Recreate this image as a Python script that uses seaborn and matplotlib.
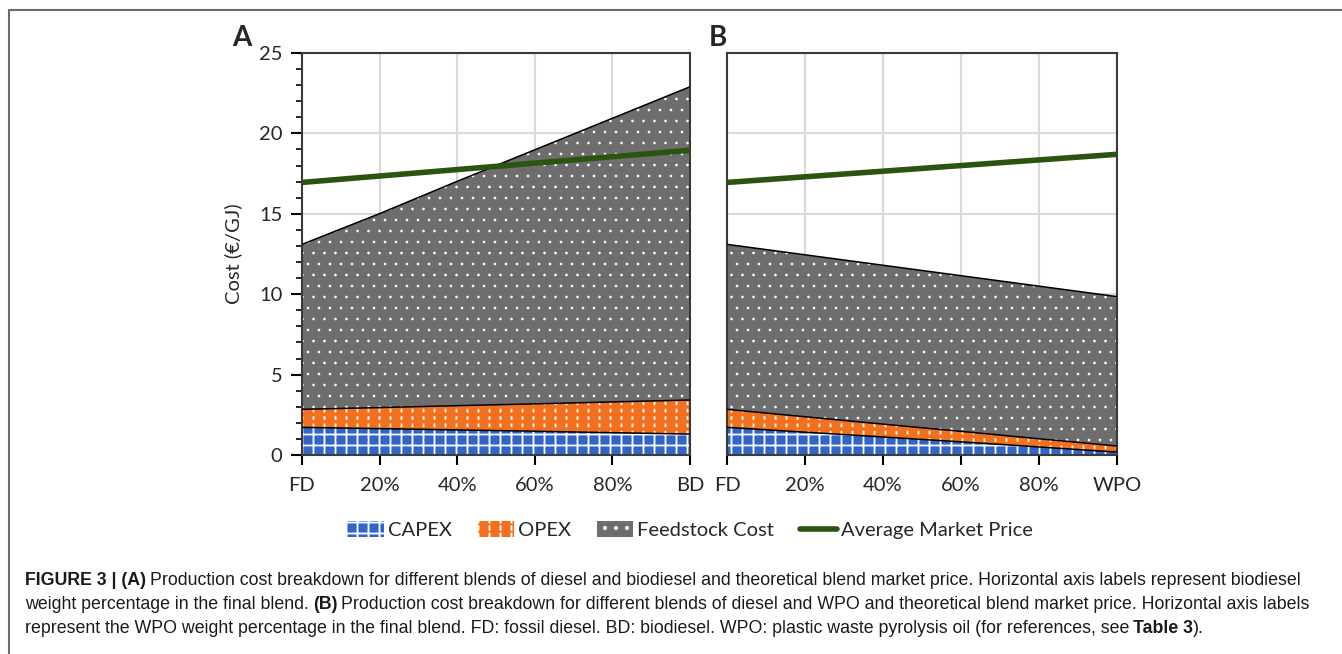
import matplotlib
matplotlib.use("Agg")
import matplotlib.pyplot as plt
import seaborn as sns
import pandas as pd
from matplotlib.patches import Patch
from matplotlib.lines import Line2D
from matplotlib.ticker import MultipleLocator

# ---- data ----
share = [0, 20, 40, 60, 80, 100]
labels_a = ["FD", "20%", "40%", "60%", "80%", "BD"]
labels_b = ["FD", "20%", "40%", "60%", "80%", "WPO"]

capex_a = [1.72, 1.64, 1.56, 1.48, 1.39, 1.30]
opex_a = [1.12, 1.31, 1.51, 1.70, 1.91, 2.12]
feed_a = [10.26, 12.06, 13.95, 15.80, 17.64, 19.48]
market_a = [16.95, 17.35, 17.75, 18.15, 18.55, 18.95]

capex_b = [1.72, 1.42, 1.12, 0.82, 0.50, 0.18]
opex_b = [1.12, 0.96, 0.80, 0.65, 0.51, 0.38]
feed_b = [10.26, 10.07, 9.88, 9.68, 9.49, 9.29]
market_b = [16.95, 17.30, 17.65, 18.00, 18.35, 18.70]

df_a = pd.DataFrame({"share": share, "CAPEX": capex_a, "OPEX": opex_a,
                     "Feedstock Cost": feed_a, "market": market_a})
df_b = pd.DataFrame({"share": share, "CAPEX": capex_b, "OPEX": opex_b,
                     "Feedstock Cost": feed_b, "market": market_b})

# colours / hatches
comp = ["CAPEX", "OPEX", "Feedstock Cost"]
colors = {"CAPEX": "#3165C8", "OPEX": "#F3701E", "Feedstock Cost": "#6E6E6E"}
hatches = {"CAPEX": "++", "OPEX": "||", "Feedstock Cost": ".."}
green = "#2B5411"

# higher dpi so the hatch spacing matches; K turns pixel sizes into points
DPI = 132
K = 100 / DPI
hatch_lw = {"CAPEX": 1.3 * K, "OPEX": 1.3 * K, "Feedstock Cost": 0.3 * K}

sns.set_style("white")
plt.rcParams["font.family"] = ["Lato", "DejaVu Sans"]

W, H = 1342, 654
fig = plt.figure(figsize=(W / DPI, H / DPI), dpi=DPI)
ax_a = fig.add_axes([302 / W, 1 - 455 / H, 388 / W, 402 / H])
ax_b = fig.add_axes([727 / W, 1 - 455 / H, 390 / W, 402 / H])

FS = 14.5 * K


def draw_panel(ax, df, ticklabels, show_y):
    bottom = pd.Series(0.0, index=df.index)
    for c in comp:
        top = bottom + df[c]
        with plt.rc_context({"hatch.linewidth": hatch_lw[c]}):
            ax.fill_between(df["share"], bottom, top, facecolor=colors[c],
                            edgecolor="white", hatch=hatches[c], linewidth=0, zorder=2)
        if c == "OPEX":
            # orange bands break the white stripes into short dashes
            with plt.rc_context({"hatch.linewidth": 2.6 * K}):
                ax.fill_between(df["share"], bottom, top, facecolor="none",
                                edgecolor=colors[c], hatch="---", linewidth=0, zorder=2)
        ax.plot(df["share"], top, color="black", lw=1.1 * K, zorder=3)
        bottom = top
    sns.lineplot(data=df, x="share", y="market", color=green, lw=4 * K,
                 ax=ax, legend=False, zorder=4)

    ax.set_xlim(0, 100)
    ax.set_ylim(0, 25)
    ax.set_xticks(share)
    ax.set_xticklabels(ticklabels)
    ax.yaxis.set_major_locator(MultipleLocator(5))
    ax.yaxis.set_minor_locator(MultipleLocator(1))
    ax.grid(True, which="major", color="#D9D9D9", lw=1.5 * K)
    ax.set_axisbelow(True)
    ax.set_xlabel("")
    ax.set_ylabel("")
    for s in ax.spines.values():
        s.set_color("#3a3a3a")
        s.set_linewidth(1.5 * K)
    ax.tick_params(axis="x", which="major", direction="out", length=7 * K, width=1.5 * K,
                   color="black", labelsize=FS, pad=9 * K, bottom=True)
    if show_y:
        ax.tick_params(axis="y", which="major", direction="out", length=8 * K, width=1.5 * K,
                       color="black", labelsize=FS, pad=6 * K, left=True)
        ax.tick_params(axis="y", which="minor", direction="out", length=4 * K, width=1.2 * K,
                       color="black", left=True)
        ax.set_ylabel("Cost (€/GJ)", fontsize=FS, labelpad=12 * K)
    else:
        ax.tick_params(axis="y", which="both", left=False, labelleft=False)


draw_panel(ax_a, df_a, labels_a, True)
draw_panel(ax_b, df_b, labels_b, False)

fig.text(232 / W, 1 - 38 / H, "A", fontsize=20 * K, weight="bold", va="center", ha="left")
fig.text(709 / W, 1 - 38 / H, "B", fontsize=20 * K, weight="bold", va="center", ha="left")

# legend
handles = []
for c in comp:
    with plt.rc_context({"hatch.linewidth": hatch_lw[c]}):
        p = Patch(facecolor=colors[c], edgecolor="white", hatch=hatches[c], lw=0)
    if c == "OPEX":
        with plt.rc_context({"hatch.linewidth": 2.6 * K}):
            p2 = Patch(facecolor="none", edgecolor=colors[c], hatch="---", lw=0)
        p = (p, p2)
    handles.append(p)
handles.append(Line2D([0], [0], color=green, lw=4 * K))
fig.legend(handles, comp + ["Average Market Price"], loc="center",
           bbox_to_anchor=(690 / W, 1 - 530 / H), ncol=4, frameon=False,
           fontsize=FS, handlelength=1.8, handleheight=0.8, handletextpad=0.2,
           columnspacing=1.3)

# outer frame (top and left edges)
fig.add_artist(Line2D([9 / W, 1], [1 - 10 / H, 1 - 10 / H], transform=fig.transFigure,
                      color="#6b6b6b", lw=1.5 * K))
fig.add_artist(Line2D([9 / W, 9 / W], [0, 1 - 10 / H], transform=fig.transFigure,
                      color="#6b6b6b", lw=1.5 * K))

# caption with bold segments
cap_font = ["Liberation Sans", "DejaVu Sans"]
caption = [
    [("FIGURE 3 | (A)", "bold"),
     ("Production cost breakdown for different blends of diesel and biodiesel and theoretical "
      "blend market price. Horizontal axis labels represent biodiesel", "normal")],
    [("weight percentage in the final blend.", "normal"), ("(B)", "bold"),
     ("Production cost breakdown for different blends of diesel and WPO and theoretical "
      "blend market price. Horizontal axis labels", "normal")],
    [("represent the WPO weight percentage in the final blend. FD: fossil diesel. BD: biodiesel. "
      "WPO: plastic waste pyrolysis oil (for references, see", "normal"), ("Table 3", "bold"),
     (").", "normal")],
]
line_y = [585, 609, 633]
fig.canvas.draw()
renderer = fig.canvas.get_renderer()
for parts, y in zip(caption, line_y):
    x = 25
    for i, (s, w) in enumerate(parts):
        t = fig.text(x / W, 1 - y / H, s, fontsize=12.8 * K, weight=w, family=cap_font,
                     ha="left", va="baseline", color="#1a1a1a")
        bb = t.get_window_extent(renderer)
        gap = 0 if (i + 1 < len(parts) and parts[i + 1][0].startswith(")")) else 4
        x = bb.x1 + gap

fig.savefig("out.png", dpi=DPI)
